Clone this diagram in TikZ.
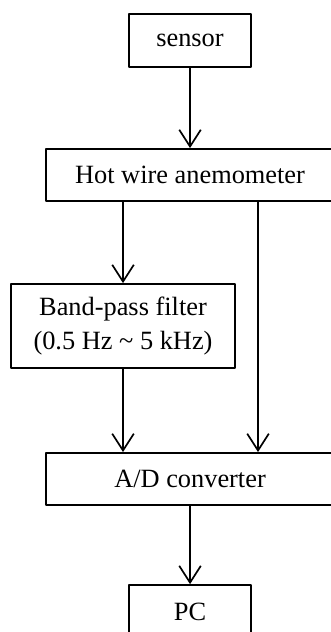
\documentclass[tikz,border=0pt]{standalone}
\usepackage{fontspec}
\setmainfont{Liberation Serif}
\usetikzlibrary{arrows.meta}

\begin{document}
\begin{tikzpicture}[line cap=round,line join=round,
    box/.style={draw,line width=0.8pt,inner sep=0pt,align=center,
      font=\fontsize{12.5}{16.5}\selectfont},
    arr/.style={line width=0.8pt,-{Straight Barb[length=2.8mm,width=3.6mm,line width=0.8pt]}}]
  \useasboundingbox (0,0) rectangle (5.5,-10.533);
  \node[box,minimum width=2.03cm,minimum height=0.88cm] (sensor) at (3.167,-0.675) {sensor};
  \node[box,minimum width=4.80cm,minimum height=0.87cm] (hwa) at (3.167,-2.917) {Hot wire anemometer};
  \node[box,minimum width=3.73cm,minimum height=1.40cm] (bpf) at (2.05,-5.433) {Band-pass filter\\(0.5 Hz \textasciitilde{} 5 kHz)};
  \node[box,minimum width=4.80cm,minimum height=0.87cm] (adc) at (3.167,-7.983) {A/D converter};
  \node[box,minimum width=2.03cm,minimum height=0.88cm] (pc) at (3.167,-10.19) {PC};
  \coordinate (tap) at (4.30,0);
  \draw[arr] (sensor) -- (hwa);
  \draw[arr] (bpf.north |- hwa.south) -- (bpf.north);
  \draw[arr] (bpf.south) -- (bpf.south |- adc.north);
  \draw[arr] (hwa.south -| tap) -- (adc.north -| tap);
  \draw[arr] (adc) -- (pc);
\end{tikzpicture}
\end{document}
